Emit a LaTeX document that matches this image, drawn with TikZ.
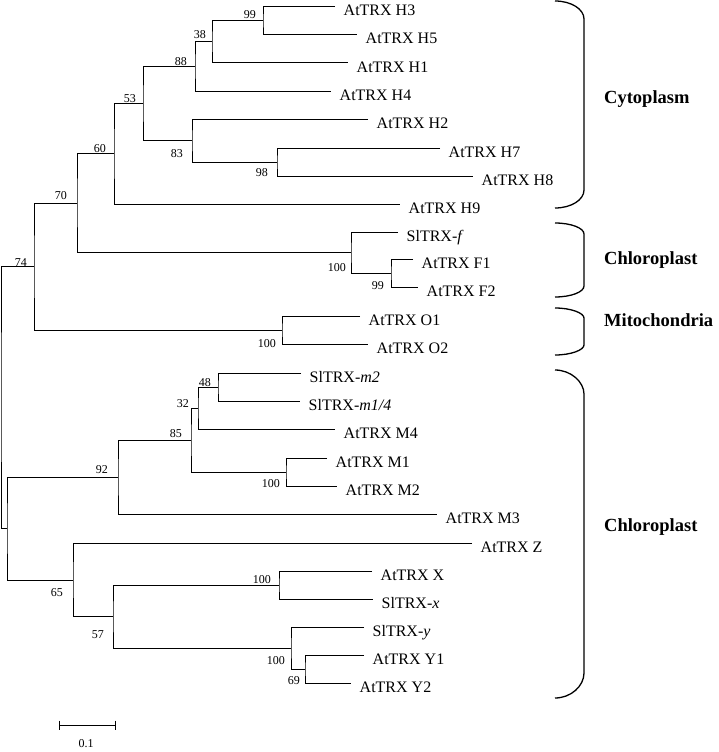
\documentclass[tikz,border=0pt]{standalone}
\usepackage{fontspec}
\setmainfont{Liberation Serif}
\begin{document}
\begin{tikzpicture}[x=1pt,y=-1pt,
  branch/.style={line width=1pt},
  leaf/.style={anchor=west,inner xsep=8.5pt,inner ysep=0pt,text height=18pt,text depth=0pt,font=\fontsize{16}{16}\selectfont},
  boot/.style={anchor=base east,inner sep=0pt,font=\fontsize{12}{12}\selectfont},
  region/.style={anchor=base west,inner sep=0pt,font=\fontsize{18.5}{18.5}\selectfont\bfseries},
  brace/.style={line width=1.3pt}]
\useasboundingbox (0,0) rectangle (719,752);
% leaves
\node[leaf] (H3) at (335,7) {AtTRX H3};
\node[leaf] (H5) at (357,35) {AtTRX H5};
\node[leaf] (H1) at (348,63) {AtTRX H1};
\node[leaf] (H4) at (331,91) {AtTRX H4};
\node[leaf] (H2) at (368,119) {AtTRX H2};
\node[leaf] (H7) at (440,148) {AtTRX H7};
\node[leaf] (H8) at (473,176) {AtTRX H8};
\node[leaf] (H9) at (400,204) {AtTRX H9};
\node[leaf] (SLf) at (398,232) {SlTRX-\textit{f}};
\node[leaf] (F1) at (413,259) {AtTRX F1};
\node[leaf] (F2) at (418,287) {AtTRX F2};
\node[leaf] (O1) at (360,316) {AtTRX O1};
\node[leaf] (O2) at (368,344) {AtTRX O2};
\node[leaf] (SLm2) at (301,373) {SlTRX-\textit{m2}};
\node[leaf] (SLm14) at (300,401) {SlTRX-\textit{m1/4}};
\node[leaf] (M4) at (335,429) {AtTRX M4};
\node[leaf] (M1) at (327,458) {AtTRX M1};
\node[leaf] (M2) at (337,486) {AtTRX M2};
\node[leaf] (M3) at (437,514) {AtTRX M3};
\node[leaf] (Z) at (472,543) {AtTRX Z};
\node[leaf] (X) at (372,571) {AtTRX X};
\node[leaf] (SLx) at (373,599) {SlTRX-\textit{x}};
\node[leaf] (SLy) at (364,627) {SlTRX-\textit{y}};
\node[leaf] (Y1) at (364,655) {AtTRX Y1};
\node[leaf] (Y2) at (351,683) {AtTRX Y2};
% internal nodes
\coordinate (n99) at (263,21);
\coordinate (n38) at (212,42);
\coordinate (n88) at (195,66.5);
\coordinate (n98) at (277,162);
\coordinate (n83) at (192,140.5);
\coordinate (n53) at (143,103.5);
\coordinate (n60) at (114,153.75);
\coordinate (nF12) at (391,273);
\coordinate (nF) at (351,252.5);
\coordinate (n70) at (77,203);
\coordinate (nO) at (282,330);
\coordinate (n74) at (34,266.5);
\coordinate (n48) at (218,387);
\coordinate (n32) at (198,408);
\coordinate (nM) at (286,472);
\coordinate (n85) at (191,440);
\coordinate (n92) at (118,477);
\coordinate (nXx) at (279,585);
\coordinate (n69) at (305,669);
\coordinate (nY) at (291,648);
\coordinate (n57) at (113,616.5);
\coordinate (n65) at (73,580);
\coordinate (nL) at (7,528);
\coordinate (root) at (1,397);
% branches
\draw[branch] (H3.west) -| (n99) |- (H5.west);
\draw[branch] (n99) -| (n38) |- (H1.west);
\draw[branch] (n38) -| (n88) |- (H4.west);
\draw[branch] (H7.west) -| (n98) |- (H8.west);
\draw[branch] (H2.west) -| (n83) |- (n98);
\draw[branch] (n88) -| (n53) |- (n83);
\draw[branch] (n53) -| (n60) |- (H9.west);
\draw[branch] (F1.west) -| (nF12) |- (F2.west);
\draw[branch] (SLf.west) -| (nF) |- (nF12);
\draw[branch] (n60) -| (n70) |- (nF);
\draw[branch] (O1.west) -| (nO) |- (O2.west);
\draw[branch] (n70) -| (n74) |- (nO);
\draw[branch] (SLm2.west) -| (n48) |- (SLm14.west);
\draw[branch] (n48) -| (n32) |- (M4.west);
\draw[branch] (M1.west) -| (nM) |- (M2.west);
\draw[branch] (n32) -| (n85) |- (nM);
\draw[branch] (n85) -| (n92) |- (M3.west);
\draw[branch] (X.west) -| (nXx) |- (SLx.west);
\draw[branch] (Y1.west) -| (n69) |- (Y2.west);
\draw[branch] (SLy.west) -| (nY) |- (n69);
\draw[branch] (nXx) -| (n57) |- (nY);
\draw[branch] (Z.west) -| (n65) |- (n57);
\draw[branch] (n92) -| (nL) |- (n65);
\draw[branch] (n74) -| (root) |- (nL);
% bootstrap values
\node[boot] (b99) at (256,19) {99};
\node[boot] (b38) at (206,39) {38};
\node[boot] (b88) at (187,66) {88};
\node[boot] (b53) at (136,102) {53};
\node[boot] (b83) at (183,157) {83};
\node[boot] (b98) at (268,176) {98};
\node[boot] (b60) at (106,152) {60};
\node[boot] (b70) at (67,199) {70};
\node[boot] (bF) at (346,271) {100};
\node[boot] (bF12) at (384,289) {99};
\node[boot] (b74) at (27,266) {74};
\node[boot] (bO) at (276,347) {100};
\node[boot] (b48) at (211,386) {48};
\node[boot] (b32) at (189,407) {32};
\node[boot] (b85) at (182,437) {85};
\node[boot] (bM) at (280,487) {100};
\node[boot] (b92) at (108,473) {92};
\node[boot] (bXx) at (271,583) {100};
\node[boot] (b65) at (63,596) {65};
\node[boot] (b57) at (104,638) {57};
\node[boot] (bY) at (285,664) {100};
\node[boot] (b69) at (300,684) {69};
% braces
\draw[brace] (555,1) .. controls (571,1) and (584,9) .. (584,19) -- (584,190) .. controls (584,200) and (571,208) .. (555,208);
\draw[brace] (555,223) .. controls (571,223) and (584,228) .. (584,234) -- (584,286) .. controls (584,292) and (571,297) .. (555,297);
\draw[brace] (555,308) .. controls (571,308) and (584,313) .. (584,318) -- (584,345) .. controls (584,350) and (571,355) .. (555,355);
\draw[brace] (555,370) .. controls (571,370) and (584,382) .. (584,394) -- (584,673) .. controls (584,686) and (571,698) .. (555,698);
% region labels
\node[region] (cyto) at (604,103) {Cytoplasm};
\node[region] (chl1) at (604,264) {Chloroplast};
\node[region] (mito) at (604,326) {Mitochondria};
\node[region] (chl2) at (604,531) {Chloroplast};
% scale bar
\coordinate (sbL) at (59,725);
\coordinate (sbR) at (115,725);
\draw[branch] (sbL) -- (sbR);
\draw[branch] ([yshift=4.5pt]sbL) -- ([yshift=-4.5pt]sbL);
\draw[branch] ([yshift=4.5pt]sbR) -- ([yshift=-4.5pt]sbR);
\node[boot,anchor=base] (sbT) at (86,747) {0.1};
\end{tikzpicture}
\end{document}
